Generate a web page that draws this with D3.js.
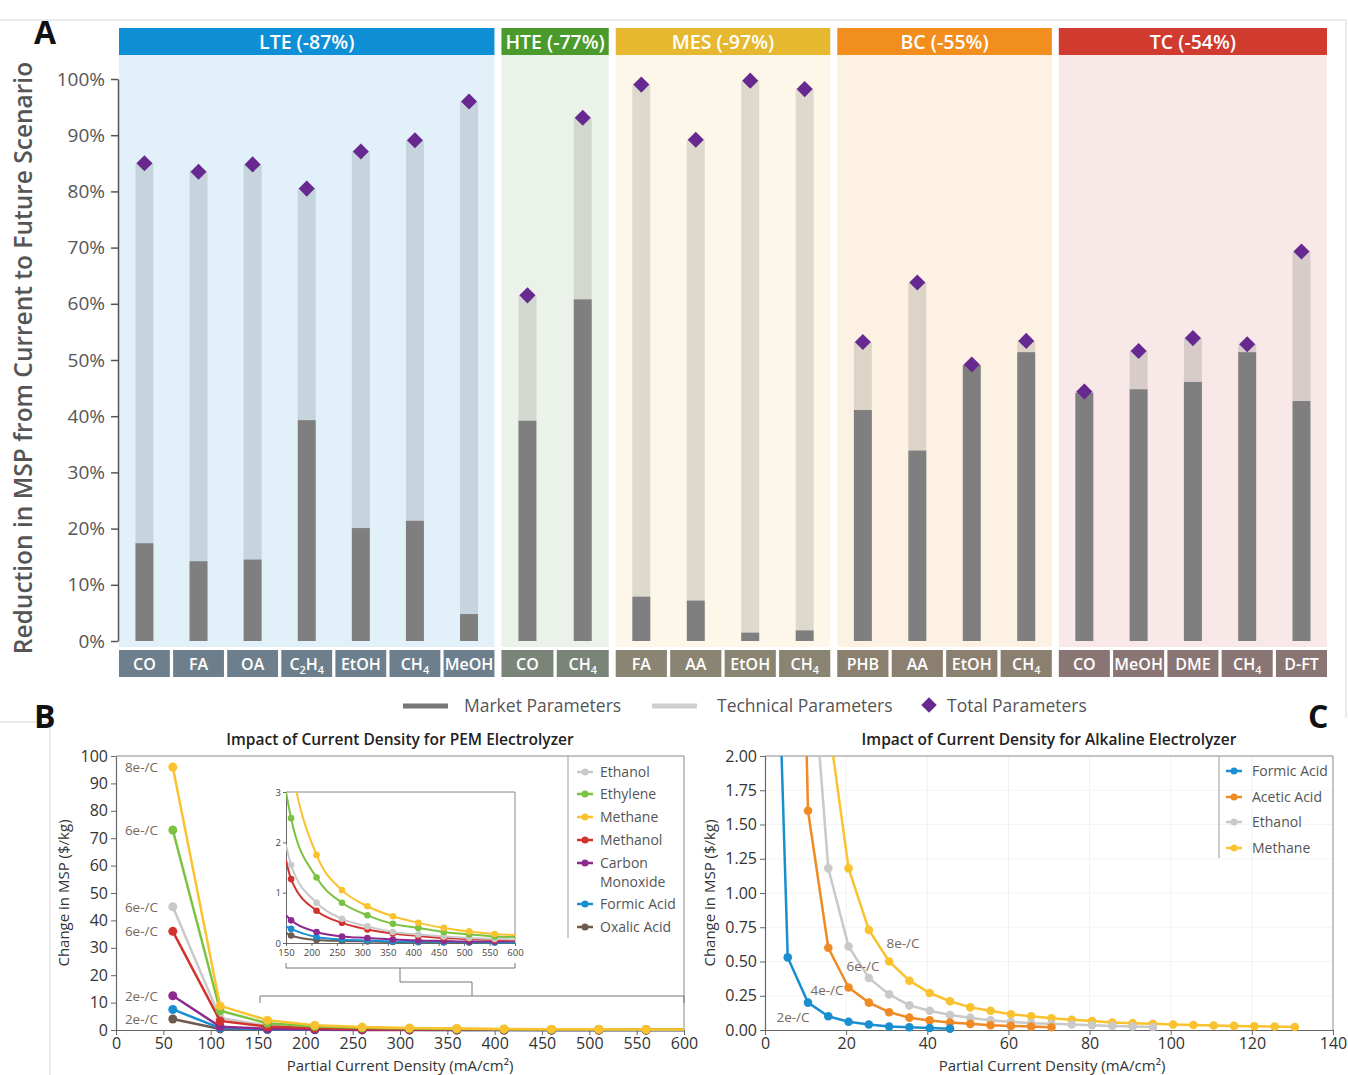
<!DOCTYPE html>
<html>
<head>
<meta charset="utf-8">
<script src="https://cdn.jsdelivr.net/npm/d3@7"></script>
<style>
  body { margin: 0; background: #fff; }
  svg { display: block; font-family: "Open Sans", sans-serif; }
</style>
</head>
<body>
<svg id="chart" width="1348" height="1075"></svg>
<script>
// ---- panel A data ----
const groupNames = ["LTE", "HTE", "MES", "BC", "TC"];
const groupChange = ["-87%", "-77%", "-97%", "-55%", "-54%"];
const groupProducts = [
    ["CO", "FA", "OA", "C2H4", "EtOH", "CH4", "MeOH"],
    ["CO", "CH4"],
    ["FA", "AA", "EtOH", "CH4"],
    ["PHB", "AA", "EtOH", "CH4"],
    ["CO", "MeOH", "DME", "CH4", "D-FT"]
];
const marketValues = [
    [17.4, 14.2, 14.5, 39.3, 20.1, 21.4, 4.8],
    [39.2, 60.8],
    [7.9, 7.2, 1.5, 1.9],
    [41.1, 33.9, 49.1, 51.4],
    [44.2, 44.8, 46.1, 51.4, 42.7]
];
const totalValues = [
    [85.0, 83.5, 84.8, 80.5, 87.1, 89.1, 96.0],
    [61.5, 93.1],
    [99.0, 89.2, 99.7, 98.2],
    [53.2, 63.8, 49.2, 53.4],
    [44.4, 51.6, 53.9, 52.8, 69.3]
];
const percentTicks = [0, 10, 20, 30, 40, 50, 60, 70, 80, 90, 100];

// ---- panel B data (PEM) ----
const pemSeries = ["Ethanol", "Ethylene", "Methane", "Methanol", "Carbon Monoxide", "Formic Acid", "Oxalic Acid"];
const pemDensity = [60, 110, 160, 210, 260, 310, 360, 410, 460, 510, 560];
const pemEthanol = [45, 4.4, 1.55, 0.80, 0.48, 0.33, 0.22, 0.17, 0.13, 0.10, 0.08];
const pemEthylene = [73, 7.0, 2.48, 1.30, 0.80, 0.55, 0.38, 0.30, 0.22, 0.17, 0.13];
const pemMethane = [96, 8.8, 3.60, 1.75, 1.05, 0.73, 0.53, 0.40, 0.30, 0.23, 0.18];
const pemMethanol = [36, 3.3, 1.27, 0.64, 0.40, 0.27, 0.19, 0.14, 0.10, 0.08, 0.06];
const pemCO = [12.5, 1.2, 0.45, 0.22, 0.13, 0.10, 0.07, 0.05, 0.04, 0.03, 0.03];
const pemFormic = [7.5, 0.7, 0.28, 0.12, 0.07, 0.05, 0.03, 0.025, 0.02, 0.015, 0.01];
const pemOxalic = [4.0, 0.4, 0.15, 0.06, 0.04, 0.03, 0.02, 0.015, 0.01, 0.01, 0.01];
// curve ends seen in the inset (at 150 and 600 mA/cm2)
const pemAt150 = [1.95, 3.0, 4.3, 1.65, 0.55, 0.33, 0.20];
const pemAt600 = [0.07, 0.12, 0.16, 0.05, 0.04, 0.01, 0.01];
const pemLabels = ["6e-/C", "6e-/C", "8e-/C", "6e-/C", "2e-/C", "", "2e-/C"];

// ---- panel C data (alkaline) ----
const alkSeries = ["Formic Acid", "Acetic Acid", "Ethanol", "Methane"];
const alkDensity = [0.6, 5.6, 10.6, 15.6, 20.6, 25.6, 30.6, 35.6, 40.6, 45.6, 50.6, 55.6, 60.6, 65.6,
    70.6, 75.6, 80.6, 85.6, 90.6, 95.6, 100.6, 105.6, 110.6, 115.6, 120.6, 125.6, 130.6];
const alkFormic = [5.4, 0.53, 0.20, 0.10, 0.06, 0.04, 0.025, 0.02, 0.015, 0.01];
const alkAcetic = [7.9, 1.60, 0.60, 0.31, 0.20, 0.13, 0.09, 0.07, 0.055, 0.045, 0.035, 0.03, 0.025, 0.02];
const alkEthanol = [3.1, 1.18, 0.61, 0.38, 0.26, 0.18, 0.14, 0.11, 0.09, 0.07, 0.06, 0.05, 0.045, 0.04,
    0.035, 0.03, 0.025, 0.022];
const alkMethane = [2.26, 1.18, 0.73, 0.50, 0.36, 0.27, 0.21, 0.165, 0.14, 0.115, 0.10, 0.085, 0.075,
    0.065, 0.055, 0.05, 0.045, 0.04, 0.037, 0.033, 0.03, 0.027, 0.025, 0.022];
const alkOffset = [0, 1, 2, 3];   // index in alkDensity where each series starts
const alkLabels = ["2e-/C", "4e-/C", "6e-/C", "8e-/C"];

// ---- styles ----
const headerColors = ["#0f8fd5", "#4b9a2c", "#e6b830", "#f28e1e", "#d03a2f"];
const panelColors = ["#e2f0f9", "#ebf2ea", "#fcf7e8", "#fdf1e4", "#f9e8e8"];
const techColors = ["#c6d4dd", "#d2d8d0", "#ddd9cd", "#ddd4c8", "#d8cccb"];
const boxColors = ["#6d7f8c", "#7b8479", "#8a8473", "#8b7f70", "#8a7575"];
const marketColor = "#7f7f7f";
const diamondColor = "#67298f";
const pemColors = ["#c9c9c9", "#7cc242", "#f9c22e", "#d2322d", "#8e2a8e", "#1a8fd0", "#6e5a4e"];
const alkColors = ["#1a8fd0", "#f08a24", "#c9c9c9", "#f9c22e"];
const labelBrown = "#76685d";

const svg = d3.select("#chart");

function subLabel(textEl, str) {
    const parts = str.match(/\d+|\D+/g);
    let down = false;
    parts.forEach(p => {
        const isNum = /^\d+$/.test(p);
        const t = textEl.append("tspan").text(p);
        if (isNum) {
            t.attr("font-size", "0.68em").attr("dy", down ? 0 : 4);
            down = true;
        } else {
            t.attr("dy", down ? -4 : 0);
            down = false;
        }
    });
}

function diamond(size) {
    return d3.symbol().type(d3.symbolSquare).size(size)();
}

// ===================== PANEL A =====================
function drawPanelA() {
    const y = d3.scaleLinear().domain([0, 100]).range([641, 79]);
    const left = 119, right = 1327, gap = 7;
    const nCats = d3.sum(groupProducts, d => d.length);
    const step = (right - left - gap * (groupProducts.length - 1)) / nCats;

    const g = svg.append("g");
    let cum = 0;
    groupProducts.forEach((cats, gi) => {
        const x0 = left + cum * step + gi * gap;
        const x1 = x0 + cats.length * step;
        cum += cats.length;
        const x = d3.scaleBand().domain(d3.range(cats.length)).range([x0, x1]).paddingInner(0.06);
        const grp = g.append("g");

        grp.append("rect").attr("x", x0).attr("y", 55).attr("width", x1 - x0).attr("height", 592)
            .attr("fill", panelColors[gi]);
        grp.append("rect").attr("x", x0).attr("y", 28).attr("width", x1 - x0).attr("height", 27)
            .attr("fill", headerColors[gi]);
        grp.append("text").attr("x", (x0 + x1) / 2).attr("y", 49)
            .attr("text-anchor", "middle").attr("fill", "#fff")
            .attr("font-size", 19.5).attr("font-weight", 600)
            .text(groupNames[gi] + " (" + groupChange[gi] + ")");

        const bw = 18;
        const cx = i => x(i) + x.bandwidth() / 2;
        const idx = d3.range(cats.length);

        grp.selectAll(".tech").data(idx).join("rect")
            .attr("x", i => cx(i) - bw / 2)
            .attr("y", i => y(totalValues[gi][i]))
            .attr("width", bw)
            .attr("height", i => y(marketValues[gi][i]) - y(totalValues[gi][i]))
            .attr("fill", techColors[gi]);
        grp.selectAll(".market").data(idx).join("rect")
            .attr("x", i => cx(i) - bw / 2)
            .attr("y", i => y(marketValues[gi][i]))
            .attr("width", bw)
            .attr("height", i => y(0) - y(marketValues[gi][i]))
            .attr("fill", marketColor);
        grp.selectAll(".total").data(idx).join("path")
            .attr("d", diamond(130))
            .attr("transform", i => `translate(${cx(i)},${y(totalValues[gi][i])}) rotate(45)`)
            .attr("fill", diamondColor);

        grp.selectAll(".catbox").data(idx).join("rect")
            .attr("x", i => x(i)).attr("y", 650)
            .attr("width", x.bandwidth()).attr("height", 27)
            .attr("fill", boxColors[gi]);
        grp.selectAll(".catlabel").data(idx).join("text")
            .attr("x", cx).attr("y", 670)
            .attr("text-anchor", "middle").attr("fill", "#fff")
            .attr("font-size", 16).attr("font-weight", 600)
            .each(function (i) { subLabel(d3.select(this), cats[i]); });
    });

    const axis = g.append("g").attr("transform", "translate(118,0)")
        .call(d3.axisLeft(y).tickValues(percentTicks).tickFormat(d => d + "%")
            .tickSize(7).tickSizeOuter(0).tickPadding(6));
    axis.select(".domain").attr("stroke", "#555").attr("stroke-width", 1.5);
    axis.selectAll(".tick line").attr("stroke", "#555").attr("stroke-width", 1.5);
    axis.selectAll(".tick text").attr("fill", "#555").attr("font-size", 19).attr("font-family", "Open Sans");

    g.append("text")
        .attr("transform", "translate(32,358) rotate(-90)")
        .attr("text-anchor", "middle").attr("fill", "#555")
        .attr("font-size", 24.5).attr("font-weight", 600)
        .text("Reduction in MSP from Current to Future Scenario");

    // legend
    const lg = g.append("g").attr("font-size", 17.5).attr("fill", "#555");
    lg.append("line").attr("x1", 403).attr("x2", 448).attr("y1", 706).attr("y2", 706)
        .attr("stroke", "#777").attr("stroke-width", 5);
    lg.append("text").attr("x", 464).attr("y", 712).text("Market Parameters");
    lg.append("line").attr("x1", 652).attr("x2", 697).attr("y1", 706).attr("y2", 706)
        .attr("stroke", "#cfcfcf").attr("stroke-width", 5);
    lg.append("text").attr("x", 717).attr("y", 712).text("Technical Parameters");
    lg.append("path").attr("d", diamond(120)).attr("transform", "translate(929,705) rotate(45)")
        .attr("fill", diamondColor);
    lg.append("text").attr("x", 947).attr("y", 712).text("Total Parameters");
}

// ===================== shared axis styling =====================
function styleAxis(axis) {
    axis.select(".domain").attr("stroke", "#666").attr("stroke-width", 1.2);
    axis.selectAll(".tick line").attr("stroke", "#666");
    axis.selectAll(".tick text").attr("fill", "#333").attr("font-size", 16).attr("font-family", "Open Sans");
}

function drawLegend(g, names, colors, x0, ys) {
    names.forEach((name, i) => {
        g.append("line").attr("x1", x0 - 8).attr("x2", x0 + 8).attr("y1", ys[i]).attr("y2", ys[i])
            .attr("stroke", colors[i]).attr("stroke-width", 2.5);
        g.append("circle").attr("cx", x0).attr("cy", ys[i]).attr("r", 3.5).attr("fill", colors[i]);
    });
}

// ===================== PANEL B =====================
function drawPanelB() {
    const x = d3.scaleLinear().domain([0, 600]).range([116, 684]);
    const y = d3.scaleLinear().domain([0, 100]).range([1030, 756]);
    const g = svg.append("g");
    const values = [pemEthanol, pemEthylene, pemMethane, pemMethanol, pemCO, pemFormic, pemOxalic];

    g.append("text").attr("x", 400).attr("y", 745).attr("text-anchor", "middle")
        .attr("font-size", 15.5).attr("font-weight", 600).attr("fill", "#222")
        .text("Impact of Current Density for PEM Electrolyzer");

    // frame top / right
    g.append("path").attr("d", `M116,756H684V1030`).attr("fill", "none").attr("stroke", "#888");

    const xa = g.append("g").attr("transform", "translate(0,1030)")
        .call(d3.axisBottom(x).tickValues(d3.range(0, 601, 50)).tickSize(5).tickSizeOuter(0).tickPadding(3));
    const ya = g.append("g").attr("transform", "translate(116,0)")
        .call(d3.axisLeft(y).tickValues(d3.range(0, 101, 10)).tickSize(5).tickSizeOuter(0).tickPadding(3));
    styleAxis(xa); styleAxis(ya);

    g.append("text").attr("x", 400).attr("y", 1071).attr("text-anchor", "middle")
        .attr("font-size", 15).attr("fill", "#333").text("Partial Current Density (mA/cm²)");
    g.append("text").attr("transform", "translate(69,893) rotate(-90)").attr("text-anchor", "middle")
        .attr("font-size", 15).attr("fill", "#333").text("Change in MSP ($/kg)");

    const line = d3.line().x(d => x(d[0])).y(d => y(d[1]));
    const order = [0, 6, 5, 4, 3, 1, 2];
    order.forEach(si => {
        const pts = pemDensity.map((d, i) => [d, values[si][i]]);
        g.append("path").attr("d", line(pts.concat([[600, pemAt600[si]]])))
            .attr("fill", "none").attr("stroke", pemColors[si]).attr("stroke-width", 2.5);
        g.selectAll(null).data(pts).join("circle")
            .attr("cx", d => x(d[0])).attr("cy", d => y(d[1])).attr("r", 4.5)
            .attr("fill", pemColors[si]);
    });

    // e-/C labels at the first points
    pemLabels.forEach((lab, si) => {
        if (!lab) return;
        g.append("text").attr("x", 158).attr("y", y(values[si][0]) + 5)
            .attr("text-anchor", "end").attr("font-size", 13.5).attr("fill", labelBrown).text(lab);
    });

    // legend
    const lg = g.append("g");
    lg.append("line").attr("x1", 568).attr("x2", 568).attr("y1", 756).attr("y2", 938).attr("stroke", "#999");
    const ly = [772, 794, 817, 840, 863, 904, 927];
    drawLegend(lg, pemSeries, pemColors, 585, ly);
    pemSeries.forEach((name, i) => {
        const t = lg.append("text").attr("x", 600).attr("y", ly[i] + 5).attr("font-size", 14).attr("fill", "#555");
        if (name === "Carbon Monoxide") {
            t.append("tspan").text("Carbon");
            t.append("tspan").attr("x", 600).attr("dy", 19).text("Monoxide");
        } else t.text(name);
    });

    // brackets connecting the inset
    g.append("path")
        .attr("d", "M260,1003V996H684V1003 M472,996V982H400V968 M286,963V968H515V963")
        .attr("fill", "none").attr("stroke", "#777");

    drawInset(values);
}

function drawInset(values) {
    const x = d3.scaleLinear().domain([150, 600]).range([286, 515]);
    const y = d3.scaleLinear().domain([0, 3]).range([943, 792]);
    const g = svg.append("g");

    g.append("rect").attr("x", 286).attr("y", 792).attr("width", 229).attr("height", 151).attr("fill", "#fff");
    g.append("clipPath").attr("id", "inset-clip").append("rect")
        .attr("x", 286).attr("y", 792).attr("width", 232).attr("height", 156);
    g.append("path").attr("d", "M286,792H515V943").attr("fill", "none").attr("stroke", "#888");

    const xa = g.append("g").attr("transform", "translate(0,943)")
        .call(d3.axisBottom(x).tickValues(d3.range(150, 601, 50)).tickSize(3).tickSizeOuter(0).tickPadding(3));
    const ya = g.append("g").attr("transform", "translate(286,0)")
        .call(d3.axisLeft(y).tickValues([0, 1, 2, 3]).tickFormat(d3.format("d"))
            .tickSize(3).tickSizeOuter(0).tickPadding(2));
    [xa, ya].forEach(a => {
        a.select(".domain").attr("stroke", "#666");
        a.selectAll(".tick line").attr("stroke", "#666");
        a.selectAll(".tick text").attr("fill", "#444").attr("font-size", 9.5).attr("font-family", "Open Sans");
    });

    const line = d3.line().x(d => x(d[0])).y(d => y(d[1])).curve(d3.curveMonotoneX);
    const plot = g.append("g").attr("clip-path", "url(#inset-clip)");
    const order = [6, 5, 4, 3, 0, 1, 2];
    order.forEach(si => {
        const pts = pemDensity.map((d, i) => [d, values[si][i]]).filter(d => d[0] >= 150);
        plot.append("path").attr("d", line([[150, pemAt150[si]]].concat(pts, [[600, pemAt600[si]]])))
            .attr("fill", "none").attr("stroke", pemColors[si]).attr("stroke-width", 2);
        plot.selectAll(null).data(pts).join("circle")
            .attr("cx", d => x(d[0])).attr("cy", d => y(d[1])).attr("r", 3.3)
            .attr("fill", pemColors[si]);
    });
}

// ===================== PANEL C =====================
function drawPanelC() {
    const x = d3.scaleLinear().domain([0, 140]).range([765, 1333]);
    const y = d3.scaleLinear().domain([0, 2]).range([1030, 756]);
    const g = svg.append("g");
    const values = [alkFormic, alkAcetic, alkEthanol, alkMethane];

    g.append("text").attr("x", 1049).attr("y", 745).attr("text-anchor", "middle")
        .attr("font-size", 15.5).attr("font-weight", 600).attr("fill", "#222")
        .text("Impact of Current Density for Alkaline Electrolyzer");

    // faint grid
    g.selectAll(".vgrid").data(d3.range(20, 140, 20)).join("line")
        .attr("x1", d => x(d)).attr("x2", d => x(d)).attr("y1", 756).attr("y2", 1030)
        .attr("stroke", "#f1f1f1");
    g.selectAll(".hgrid").data(d3.range(0.25, 2, 0.25)).join("line")
        .attr("x1", 765).attr("x2", 1333).attr("y1", d => y(d)).attr("y2", d => y(d))
        .attr("stroke", "#f4f4f4");

    g.append("path").attr("d", "M765,756H1333V1030").attr("fill", "none").attr("stroke", "#888");

    const xa = g.append("g").attr("transform", "translate(0,1030)")
        .call(d3.axisBottom(x).tickValues(d3.range(0, 141, 20)).tickSize(5).tickSizeOuter(0).tickPadding(3));
    const ya = g.append("g").attr("transform", "translate(765,0)")
        .call(d3.axisLeft(y).tickValues(d3.range(0, 2.01, 0.25)).tickFormat(d3.format(".2f"))
            .tickSize(5).tickSizeOuter(0).tickPadding(3));
    styleAxis(xa); styleAxis(ya);

    g.append("text").attr("x", 1052).attr("y", 1071).attr("text-anchor", "middle")
        .attr("font-size", 15).attr("fill", "#333").text("Partial Current Density (mA/cm²)");
    g.append("text").attr("transform", "translate(715,893) rotate(-90)").attr("text-anchor", "middle")
        .attr("font-size", 15).attr("fill", "#333").text("Change in MSP ($/kg)");

    g.append("clipPath").attr("id", "alk-clip").append("rect")
        .attr("x", 765).attr("y", 756).attr("width", 575).attr("height", 290);
    const plot = g.append("g").attr("clip-path", "url(#alk-clip)");
    const line = d3.line().x(d => x(d[0])).y(d => y(d[1]));
    [3, 2, 1, 0].forEach(si => {
        const pts = values[si].map((v, i) => [alkDensity[alkOffset[si] + i], v]);
        plot.append("path").attr("d", line(pts))
            .attr("fill", "none").attr("stroke", alkColors[si]).attr("stroke-width", 2.5);
        plot.selectAll(null).data(pts).join("circle")
            .attr("cx", d => x(d[0])).attr("cy", d => y(d[1])).attr("r", 4.3)
            .attr("fill", alkColors[si]);
    });

    const labelPos = [[793, 1022], [827, 995], [863, 971], [903, 948]];
    alkLabels.forEach((lab, i) => {
        g.append("text").attr("x", labelPos[i][0]).attr("y", labelPos[i][1])
            .attr("text-anchor", "middle").attr("font-size", 13.5).attr("fill", labelBrown).text(lab);
    });

    const lg = g.append("g");
    lg.append("line").attr("x1", 1219).attr("x2", 1219).attr("y1", 756).attr("y2", 858).attr("stroke", "#999");
    const ly = [771, 797, 822, 848];
    drawLegend(lg, alkSeries, alkColors, 1234, ly);
    alkSeries.forEach((name, i) => {
        lg.append("text").attr("x", 1252).attr("y", ly[i] + 5).attr("font-size", 14).attr("fill", "#555").text(name);
    });
}

// frame lines and panel letters
function drawFrame() {
    svg.append("path").attr("d", "M0,20H1346V718 M0,722H50V1075")
        .attr("fill", "none").attr("stroke", "#d6d6d6");
    const letters = [["A", 34, 44], ["B", 34, 728], ["C", 1308, 728]];
    letters.forEach(l => {
        svg.append("text").attr("x", l[1]).attr("y", l[2]).attr("font-size", 32).attr("font-weight", 700)
            .attr("fill", "#111").text(l[0]);
    });
}

drawFrame();
drawPanelA();
drawPanelB();
drawPanelC();
</script>
</body>
</html>
